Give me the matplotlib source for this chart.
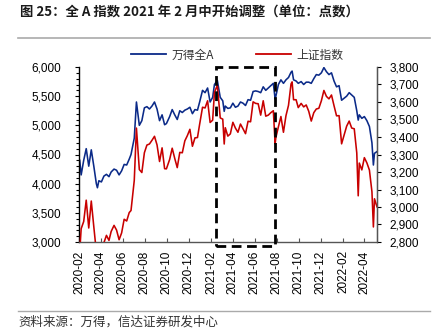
import matplotlib
matplotlib.use("Agg")
import matplotlib.pyplot as plt
import matplotlib.dates as mdates
import matplotlib.ticker as mticker
from matplotlib.patches import Rectangle
from matplotlib.lines import Line2D
import pandas as pd

plt.rcParams['font.family'] = ['Liberation Sans', 'Noto Sans CJK SC', 'DejaVu Sans']
CJK = ['Noto Sans CJK SC', 'DejaVu Sans']

dates = [
    "2020-02-03", "2020-02-07", "2020-02-14", "2020-02-21", "2020-02-28", "2020-03-06", "2020-03-13",
    "2020-03-20", "2020-03-23", "2020-03-27", "2020-04-03", "2020-04-10", "2020-04-17", "2020-04-24",
    "2020-04-30", "2020-05-08", "2020-05-15", "2020-05-22", "2020-05-29", "2020-06-05", "2020-06-12",
    "2020-06-19", "2020-06-24", "2020-07-03", "2020-07-09", "2020-07-17", "2020-07-24", "2020-07-31",
    "2020-08-07", "2020-08-14", "2020-08-21", "2020-08-28", "2020-09-04", "2020-09-11", "2020-09-18",
    "2020-09-25", "2020-09-30", "2020-10-09", "2020-10-16", "2020-10-23", "2020-10-30", "2020-11-06",
    "2020-11-13", "2020-11-20", "2020-11-27", "2020-12-04", "2020-12-11", "2020-12-18", "2020-12-25",
    "2020-12-31", "2021-01-08", "2021-01-15", "2021-01-22", "2021-01-29", "2021-02-05", "2021-02-10",
    "2021-02-18", "2021-02-26", "2021-03-05", "2021-03-09", "2021-03-12", "2021-03-19", "2021-03-26",
    "2021-04-02", "2021-04-09", "2021-04-16", "2021-04-23", "2021-04-30", "2021-05-07", "2021-05-14",
    "2021-05-21", "2021-05-28", "2021-06-04", "2021-06-11", "2021-06-18", "2021-06-25", "2021-07-02",
    "2021-07-09", "2021-07-16", "2021-07-23", "2021-07-28", "2021-07-30", "2021-08-06", "2021-08-13",
    "2021-08-20", "2021-08-27", "2021-09-03", "2021-09-10", "2021-09-13", "2021-09-17", "2021-09-24",
    "2021-09-30", "2021-10-08", "2021-10-15", "2021-10-22", "2021-10-29", "2021-11-05", "2021-11-12",
    "2021-11-19", "2021-11-26", "2021-12-03", "2021-12-10", "2021-12-17", "2021-12-24", "2021-12-31",
    "2022-01-07", "2022-01-14", "2022-01-21", "2022-01-28", "2022-02-11", "2022-02-18", "2022-02-25",
    "2022-03-04", "2022-03-11", "2022-03-15", "2022-03-18", "2022-03-25", "2022-04-01", "2022-04-08",
    "2022-04-15", "2022-04-22", "2022-04-26", "2022-04-29", "2022-05-06",
]

wind_all_a = [
    4400, 4150, 4400, 4600, 4300, 4580, 4300,
    4000, 3930, 4050, 4030, 4130, 4160, 4120,
    4200, 4250, 4230, 4150, 4220, 4330, 4320,
    4420, 4500, 4780, 5400, 5000, 5080, 5300,
    5320, 5280, 5330, 5400, 5280, 5080, 5180,
    5010, 5030, 5150, 5270, 5180, 5100, 5250,
    5220, 5260, 5280, 5310, 5200, 5270, 5260,
    5400, 5600, 5560, 5640, 5400, 5480, 5700,
    5770, 5480, 5420, 5240, 5330, 5290, 5300,
    5380, 5310, 5330, 5400, 5380, 5340, 5440,
    5430, 5580, 5590, 5580, 5560, 5660, 5600,
    5640, 5680, 5720, 5450, 5500, 5700, 5780,
    5720, 5780, 5820, 5910, 5930, 5780, 5760,
    5720, 5750, 5700, 5740, 5740, 5720, 5800,
    5870, 5860, 5900, 5990, 5920, 5870, 5900,
    5760, 5660, 5680, 5430, 5500, 5560, 5520,
    5480, 5250, 5090, 5180, 5120, 5150, 5080,
    4980, 4700, 4320, 4520, 4550,
]

sse_composite = [
    2746, 2876, 2917, 3039, 2880, 3034, 2887,
    2745, 2660, 2772, 2764, 2796, 2838, 2809,
    2860, 2895, 2868, 2813, 2852, 2930, 2920,
    2968, 2980, 3152, 3451, 3214, 3197, 3310,
    3354, 3360, 3381, 3404, 3355, 3260, 3338,
    3219, 3218, 3272, 3336, 3278, 3225, 3312,
    3310, 3378, 3408, 3444, 3347, 3395, 3397,
    3473, 3570, 3566, 3607, 3483, 3496, 3655,
    3696, 3509, 3502, 3360, 3453, 3405, 3418,
    3484, 3451, 3427, 3474, 3447, 3419, 3490,
    3487, 3601, 3592, 3590, 3525, 3607, 3519,
    3525, 3539, 3550, 3361, 3397, 3458, 3517,
    3427, 3522, 3581, 3703, 3715, 3613, 3613,
    3568, 3592, 3572, 3583, 3547, 3491, 3539,
    3560, 3564, 3607, 3666, 3632, 3618, 3640,
    3579, 3521, 3522, 3361, 3462, 3491, 3451,
    3447, 3309, 3064, 3251, 3212, 3282, 3252,
    3211, 3087, 2886, 3047, 3001,
]

series_names = ["万得全A", "上证指数"]
title_text = "图 25：全 A 指数 2021 年 2 月中开始调整（单位：点数）"
source_text = "资料来源：万得，信达证券研发中心"
highlight_start, highlight_end = "2021-02-15", "2021-07-27"
highlight_low, highlight_high = 2930, 6000

x = pd.to_datetime(dates)

fig = plt.figure(figsize=(4.41, 3.35), dpi=100)
ax = fig.add_axes([79/441, 1-242/335, (377-79)/441, (242-67)/335])
ax2 = ax.twinx()

blue = "#0b2a88"
red = "#c80000"
ax.plot(x, wind_all_a, color=blue, lw=1.15)
ax2.plot(x, sse_composite, color=red, lw=1.15)

ax.set_xlim(pd.Timestamp("2020-02-01"), pd.Timestamp("2022-05-06"))
ax.set_ylim(3000, 6000)
ax2.set_ylim(2800, 3800)

fmt = mticker.FuncFormatter(lambda v, p: f"{int(v):,}")
ax.yaxis.set_major_locator(mticker.MultipleLocator(500))
ax.yaxis.set_minor_locator(mticker.MultipleLocator(100))
ax.yaxis.set_major_formatter(fmt)
ax2.yaxis.set_major_locator(mticker.MultipleLocator(100))
ax2.yaxis.set_major_formatter(fmt)

ax.xaxis.set_major_locator(mdates.MonthLocator(bymonth=[2, 4, 6, 8, 10, 12]))
ax.xaxis.set_major_formatter(mdates.DateFormatter("%Y-%m"))

ax.tick_params(axis='y', which='major', direction='out', length=3, width=0.8, labelsize=8.5, pad=10, colors='#000000')
ax.tick_params(axis='y', which='minor', direction='out', length=2, width=0.8)
ax2.tick_params(axis='y', which='major', direction='out', length=3, width=0.8, labelsize=8.5, pad=6, colors='#000000')
ax.tick_params(axis='x', which='major', direction='in', length=3, width=0.8, labelsize=8.5, pad=6, labelrotation=90, color='#555555')

for a in (ax, ax2):
    a.spines['top'].set_visible(False)
ax.spines['left'].set_color('#000000')
ax.spines['left'].set_linewidth(1.0)
ax.spines['bottom'].set_color('#555555')
ax.spines['bottom'].set_linewidth(1.0)
ax2.spines['right'].set_color('#555555')
ax2.spines['right'].set_linewidth(1.0)
ax2.spines['left'].set_visible(False)
ax2.spines['bottom'].set_visible(False)

x0 = mdates.date2num(pd.Timestamp(highlight_start))
x1 = mdates.date2num(pd.Timestamp(highlight_end))
rect = Rectangle((x0, highlight_low), x1 - x0, highlight_high - highlight_low,
                 transform=ax.transData, fill=False, edgecolor='black', lw=2.0,
                 linestyle=(0, (3.5, 2.0)), clip_on=False, zorder=10)
ax2.add_patch(rect)

handles = [Line2D([], [], color=blue, lw=1.3), Line2D([], [], color=red, lw=1.3)]
fig.legend(handles, series_names, loc='center left', bbox_to_anchor=(131/441, 1-55/335),
           ncol=2, frameon=False, borderpad=0, borderaxespad=0, handlelength=3.0,
           handletextpad=0.4, columnspacing=3.6, prop={'family': CJK, 'size': 8.5},
           labelcolor='#333333')

fig.text(20/441, 1-12/335, title_text, family=CJK, fontsize=9.6, fontweight='bold',
         color='#1a1a1a', ha='left', va='center')
fig.add_artist(Line2D([18/441, 430/441], [1-37.5/335, 1-37.5/335], color='#aaaaaa', lw=1.2))
fig.add_artist(Line2D([18/441, 430/441], [1-311/335, 1-311/335], color='#aaaaaa', lw=1.0))
fig.text(18/441, 1-322/335, source_text, family=CJK, fontsize=9, color='#333333',
         ha='left', va='center', style='italic')

fig.savefig("out.png", dpi=100)
